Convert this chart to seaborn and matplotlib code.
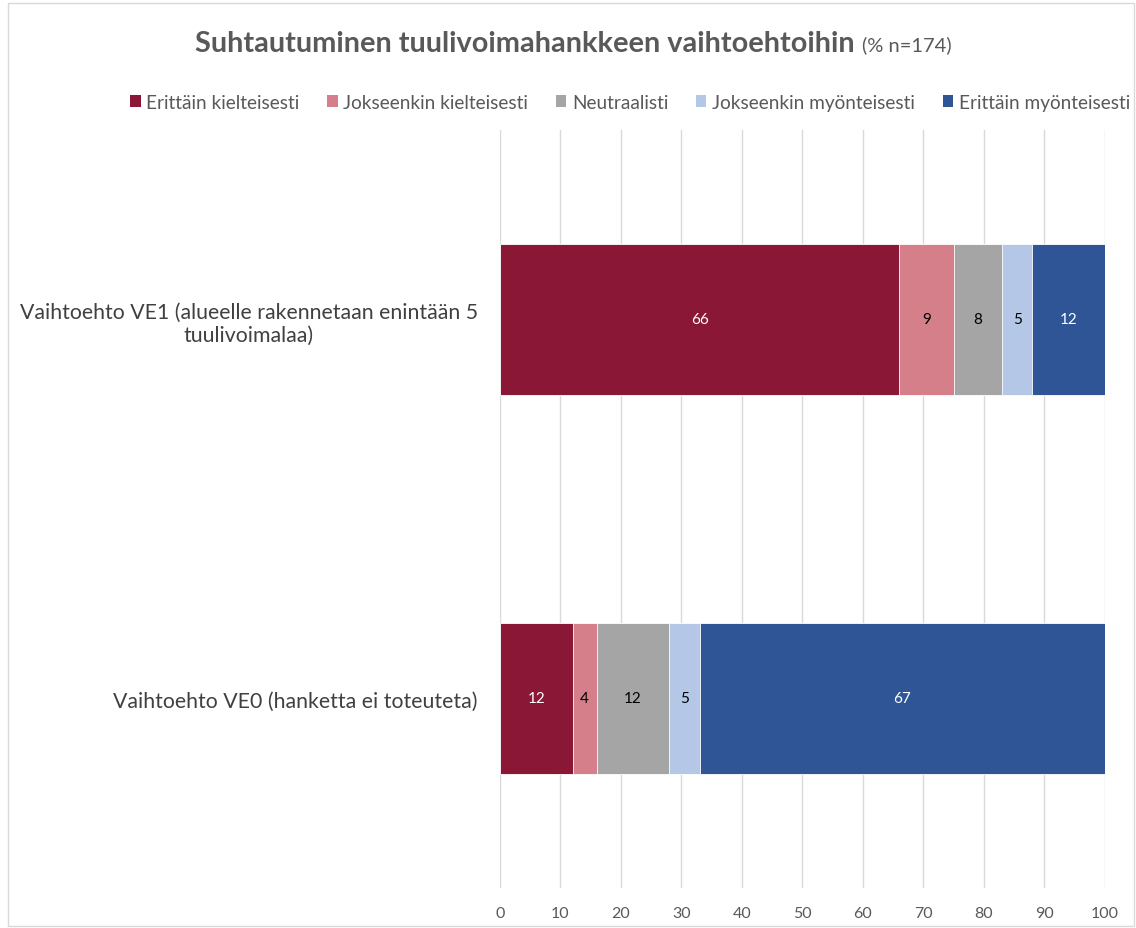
import pandas as pd
import numpy as np
import matplotlib.pyplot as plt
import seaborn as sns
from matplotlib.patches import Patch, Rectangle

# data
options = ["Vaihtoehto VE1 (alueelle rakennetaan enintään 5\ntuulivoimalaa)",
           "Vaihtoehto VE0 (hanketta ei toteuteta)"]
answers = ["Erittäin kielteisesti", "Jokseenkin kielteisesti", "Neutraalisti",
           "Jokseenkin myönteisesti", "Erittäin myönteisesti"]
ve1 = [66, 9, 8, 5, 12]
ve0 = [12, 4, 12, 5, 67]

colors = ["#8B1737", "#D57F8A", "#A5A5A5", "#B4C7E7", "#2F5597"]
text_colors = ["white", "black", "black", "black", "white"]

sns.set_theme(style="white")
plt.rcParams["font.family"] = ["Lato", "DejaVu Sans"]

df = pd.DataFrame([ve1, ve0], columns=answers)
df.insert(0, "Vaihtoehto", options)
cum = df[answers].cumsum(axis=1)

fig = plt.figure(figsize=(11.36, 9.29), dpi=100)
ax = fig.add_axes([0.4401, 0.0431, 0.5326, 0.8159])

# stacked bars: draw cumulative totals from the right-most segment backwards
for i in range(len(answers) - 1, -1, -1):
    col = answers[i]
    sns.barplot(x=cum[col], y=df["Vaihtoehto"], orient="h", color=colors[i],
                width=0.4, ax=ax, edgecolor="white", linewidth=0.6,
                saturation=1)

# value labels
for r in range(len(options)):
    for i, col in enumerate(answers):
        v = df.loc[r, col]
        center = cum.loc[r, col] - v / 2
        ax.text(center, r, str(v), ha="center", va="center", fontsize=11,
                color=text_colors[i])

ax.set_xlim(0, 100)
ax.set_ylim(1.5, -0.5)
ax.set_xticks(np.arange(0, 101, 10))
ax.xaxis.grid(True, color="#D9D9D9", linewidth=1)
ax.yaxis.grid(False)
ax.set_axisbelow(True)
for s in ax.spines.values():
    s.set_visible(False)
ax.set_xlabel("")
ax.set_ylabel("")
ax.tick_params(axis="x", colors="#595959", labelsize=11.5, length=0, pad=13)
ax.tick_params(axis="y", colors="#404040", labelsize=15.3, length=0, pad=16)
for lbl in ax.get_yticklabels():
    lbl.set_multialignment("center")

# legend
handles = [Patch(facecolor=c, edgecolor="none") for c in colors]
fig.legend(handles, answers, loc="center", bbox_to_anchor=(0.5546, 0.889),
           ncol=5, frameon=False, fontsize=13.7, handlelength=0.55,
           handleheight=0.55, handletextpad=0.3, columnspacing=1.45,
           labelcolor="#595959")

# title in two parts
t1 = fig.text(195 / 1136, 1 - 44 / 929, "Suhtautuminen tuulivoimahankkeen vaihtoehtoihin",
              ha="left", va="center", fontsize=20.8, fontweight="bold", color="#595959")
fig.canvas.draw()
bb = t1.get_window_extent()
fig.text((bb.x1 + 7) / 1136, 1 - 45 / 929, "(% n=174)", ha="left", va="center",
         fontsize=14.5, color="#595959")

# outer border
fig.patches.append(Rectangle((8 / 1136, 2 / 929), 1 - 10 / 1136, 1 - 6 / 929,
                             transform=fig.transFigure, fill=False,
                             edgecolor="#D9D9D9", linewidth=1))

fig.savefig("out.png", dpi=100)
